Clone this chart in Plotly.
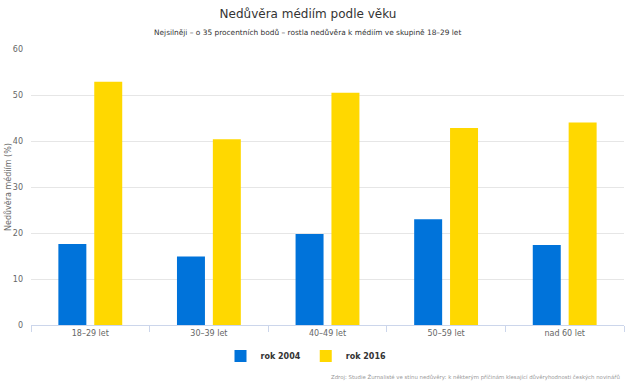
import plotly.graph_objects as go

categories = ["18–29 let", "30–39 let", "40–49 let", "50–59 let", "nad 60 let"]
rok_2004 = [17.6, 14.9, 19.8, 23.0, 17.4]
rok_2016 = [52.9, 40.4, 50.5, 42.8, 44.0]
y_ticks = [0, 10, 20, 30, 40, 50, 60]

FONT = "DejaVu Sans"
W, H = 640, 389
L, R, T, B = 31, 16, 49, 64
PH = H - T - B
PW = W - L - R


def py(page_y):
    """page pixel y -> paper y"""
    return (H - B - page_y) / PH


def px(page_x):
    return (page_x - L) / PW


fig = go.Figure()
fig.add_trace(go.Bar(name="rok 2004", x=categories, y=rok_2004,
                     marker=dict(color="#0073DA", line=dict(width=0))))
fig.add_trace(go.Bar(name="rok 2016", x=categories, y=rok_2016,
                     marker=dict(color="#FFD800", line=dict(width=0))))

fig.update_layout(
    width=W, height=H,
    margin=dict(l=L, r=R, t=T, b=B, autoexpand=False),
    paper_bgcolor="white", plot_bgcolor="white",
    font=dict(family=FONT, color="#666666", size=8),
    barmode="group", bargap=0.395, bargroupgap=0.22,
    title=dict(text="Nedůvěra médiím podle věku", xref="container", x=308 / W, xanchor="center",
               yref="container", y=1 - 14 / H, yanchor="middle",
               font=dict(family=FONT, size=12, color="#333333")),
    showlegend=True,
    legend=dict(orientation="h", x=px(306), xanchor="center", y=py(356), yanchor="middle",
                font=dict(family=FONT, size=8, color="#333333", weight="bold"),
                itemwidth=30, tracegroupgap=0),
    xaxis=dict(showline=True, linecolor="#ccd6eb", linewidth=1, automargin=False,
               ticks="outside", tickson="boundaries", ticklen=6, tickcolor="#ccd6eb",
               showgrid=False, tickfont=dict(size=8, color="#666666")),
    yaxis=dict(range=[0, 60], tickvals=y_ticks, showgrid=True, gridcolor="#e6e6e6",
               zeroline=False, showline=False, ticks="", automargin=False,
               ticklabelstandoff=7,
               tickfont=dict(size=8, color="#666666")),
)

fig.add_annotation(text="Nedůvěra médiím (%)", textangle=-90,
                   xref="paper", yref="paper", x=px(1), xanchor="left",
                   y=0.5, yanchor="middle", showarrow=False,
                   font=dict(family=FONT, size=8, color="#666666"))
fig.add_annotation(text="Nejsilněji – o 35 procentních bodů – rostla nedůvěra k médiím ve skupině 18–29 let",
                   xref="paper", yref="paper", x=px(307), xanchor="center",
                   y=py(33), yanchor="middle", showarrow=False,
                   font=dict(family=FONT, size=7.4, color="#333333"))
fig.add_annotation(text="Zdroj: Studie Žurnalisté ve stínu nedůvěry: k některým příčinám klesající důvěryhodnosti českých novinářů",
                   xref="paper", yref="paper", x=px(622), xanchor="right",
                   y=py(377), yanchor="middle", showarrow=False,
                   font=dict(family=FONT, size=5.4, color="#999999"))

fig.write_html("out.html", config={"displayModeBar": False},
               post_script="document.body.style.margin='0px';")
